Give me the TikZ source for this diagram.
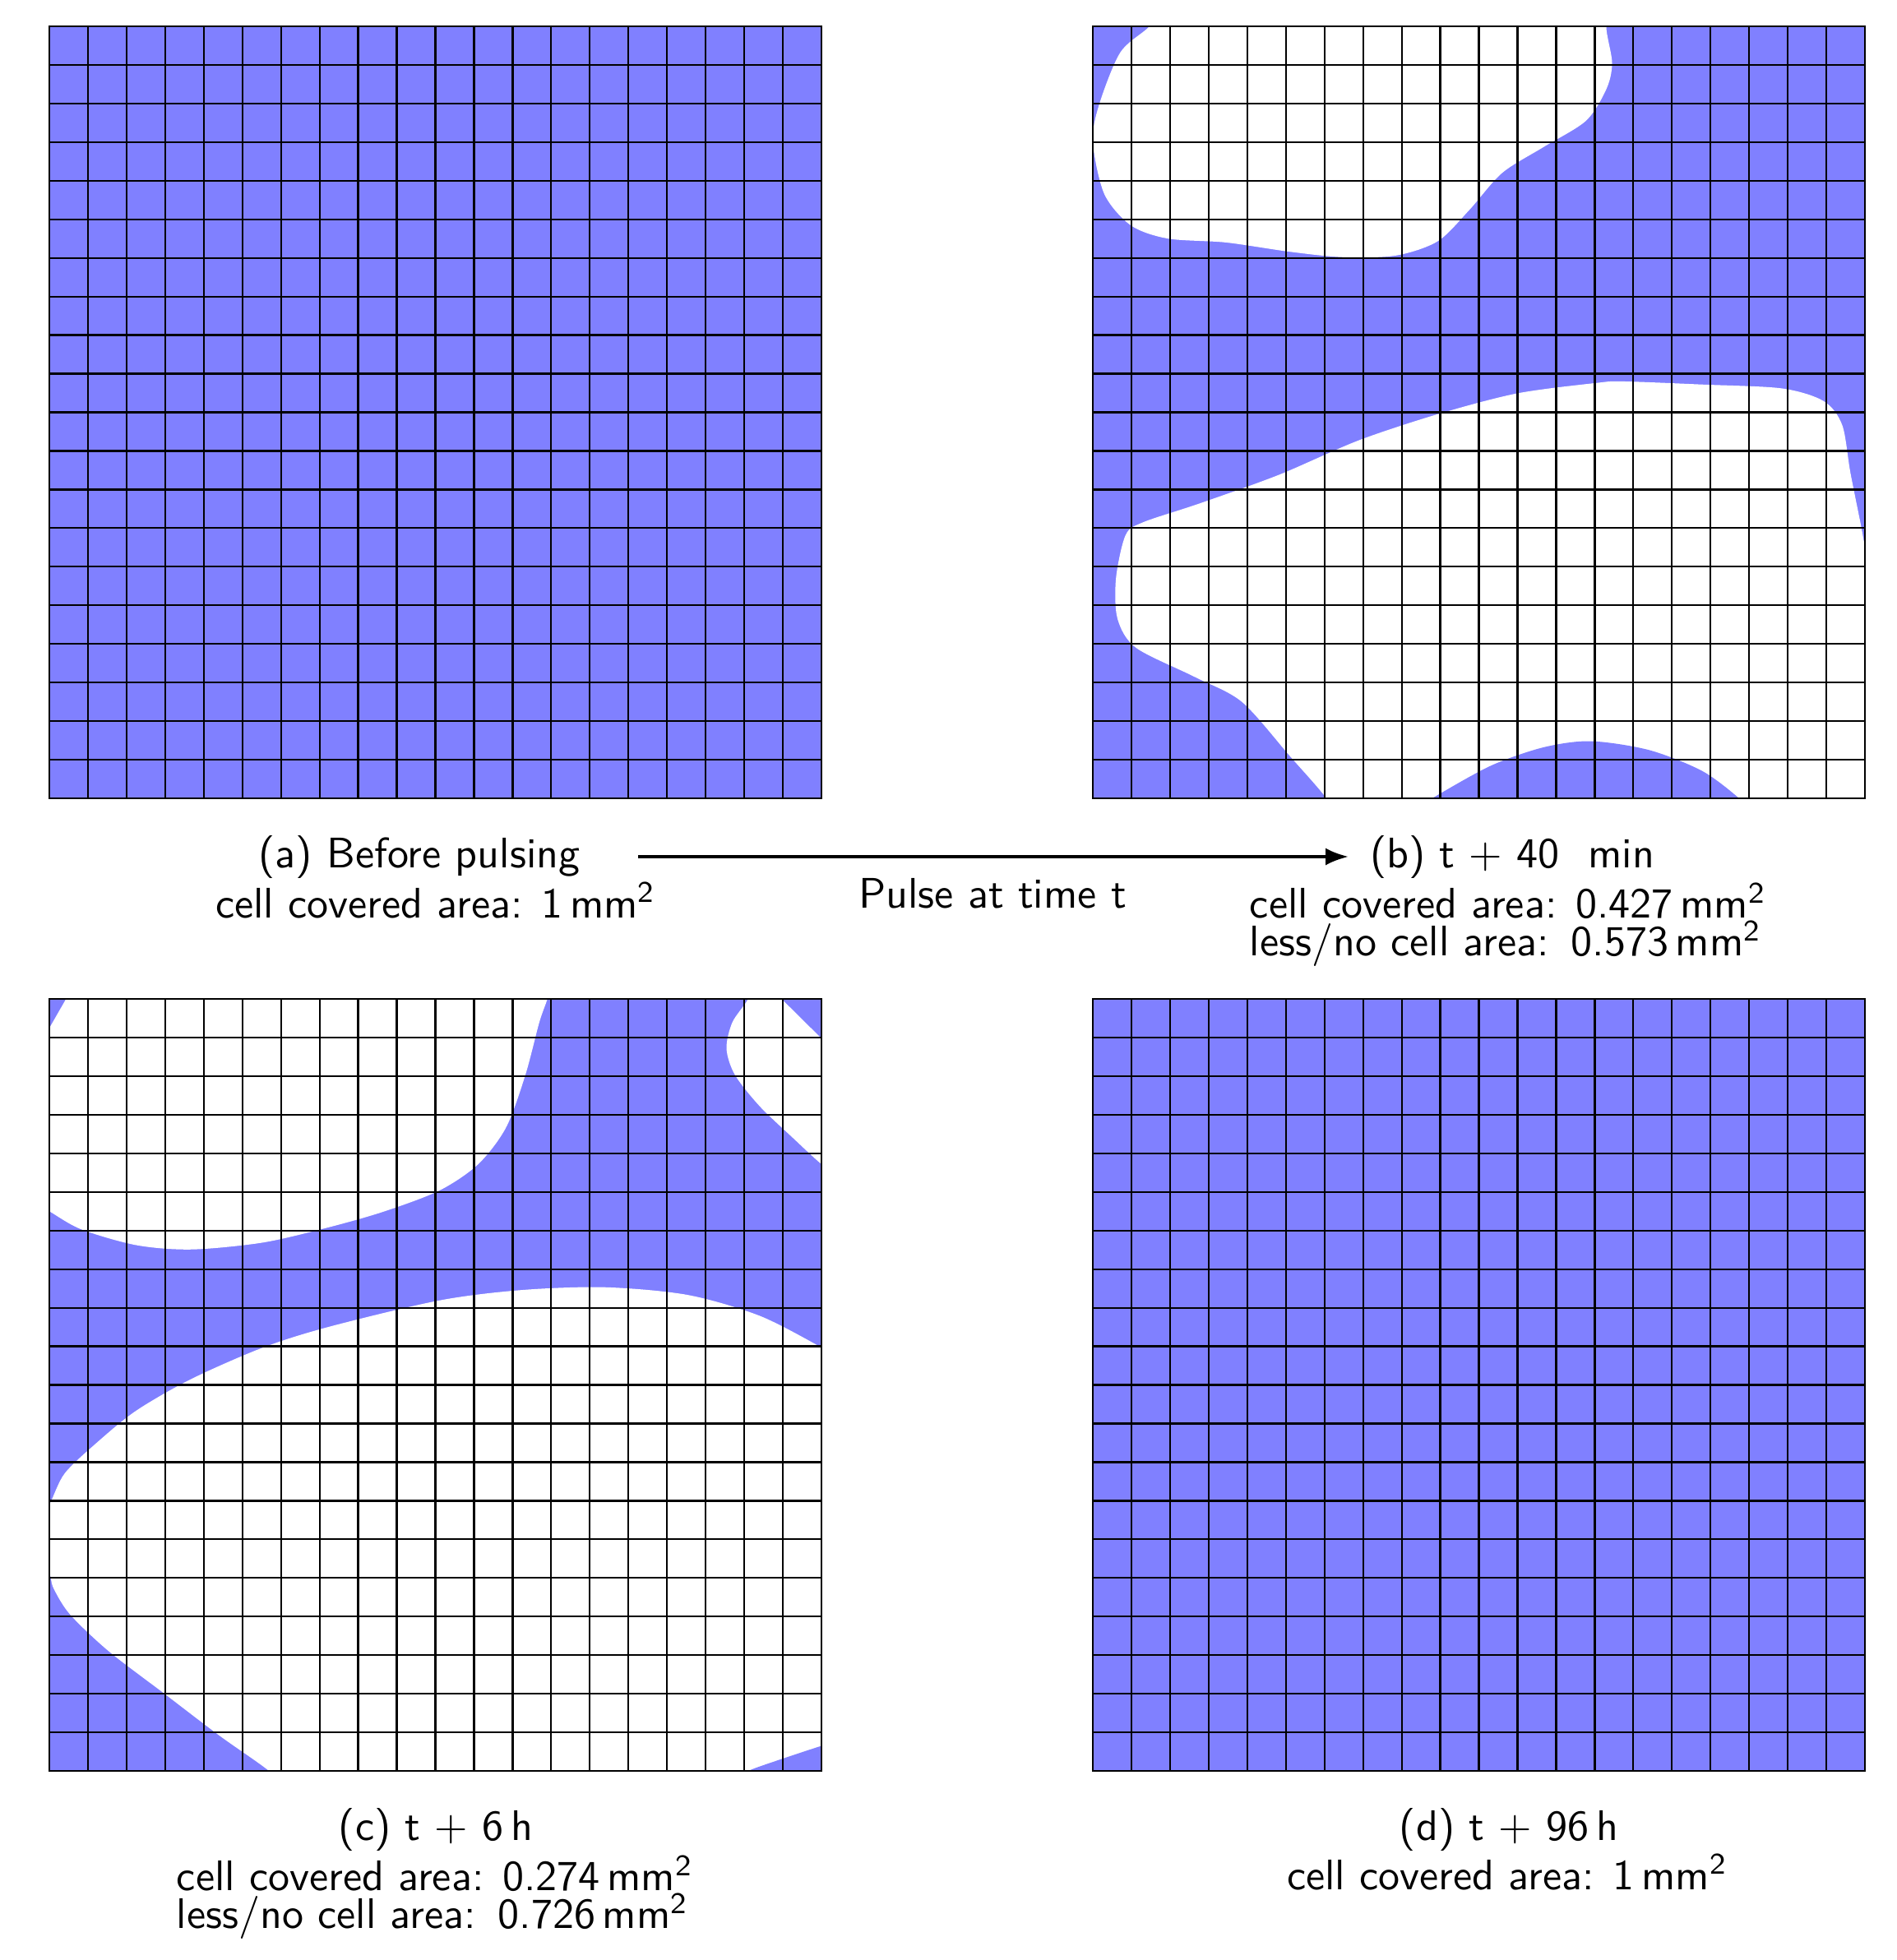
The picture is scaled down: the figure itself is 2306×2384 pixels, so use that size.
\documentclass[tikz,border=0pt]{standalone}
\usetikzlibrary{arrows.meta}
\definecolor{cellblue}{RGB}{128,128,255}
\newcommand\panelgrid{%
  \foreach \i in {1,...,19}{\draw[gridline] (\i,0) -- (\i,20); \draw[gridline] (0,\i) -- (20,\i);}
  \draw[gridline] (0,0) rectangle (20,20);}
\begin{document}
\begin{tikzpicture}[x=0.2pt,y=-0.2pt, font=\sffamily\fontsize{10.4}{12.5}\selectfont,
  gridline/.style={line width=0.45pt, black},
  capnode/.style={inner sep=0pt},
  areanode/.style={inner sep=0pt, align=left},
  cellscope/.style={x=9.39pt, y=-9.39pt},
  pulsearrow/.style={line width=0.8pt, -{Latex[length=5.6pt,width=4.2pt]}}]
\useasboundingbox (0,0) rectangle (2306,2384);
\fill[white] (0,0) rectangle (2306,2384);

% panel (a)
\begin{scope}[shift={(60,32)}, cellscope]
  \fill[cellblue] (0,0) rectangle (20,20);
  \panelgrid
\end{scope}

% panel (b)
\begin{scope}[shift={(1329,32)}, cellscope]
  \begin{scope}
    \clip (0,0) rectangle (20,20);
    \fill[cellblue] (0,0) rectangle (20,20);
    \fill[white] plot[smooth] coordinates {(13.5,-0.6) (13.3,0) (13.45,0.95) (13.3,1.63) (12.77,2.45) (11.67,3.13) (10.6,3.8) (9.75,4.76) (8.93,5.57) (7.84,5.94) (6.47,5.98) (5.1,5.84) (3.45,5.6) (1.95,5.5) (0.99,5.16) (0.3,4.35) (0.0,3.0) (0.16,2.04) (0.71,0.68) (1.47,0) (1.9,-0.6)} -- cycle;
    \fill[white] plot[smooth] coordinates {(6.3,20.6) (6.05,20) (5.1,18.9) (3.86,17.5) (2.63,16.85) (1.12,16.1) (0.64,15.35) (0.6,14.3) (0.85,13.18) (1.3,12.85) (2.77,12.36) (4.82,11.62) (6.88,10.73) (8.93,10.05) (10.99,9.51) (13.04,9.24) (13.73,9.2) (15.78,9.28) (17.84,9.38) (18.93,9.71) (19.41,10.33) (19.62,11.55) (19.89,12.9) (20.05,13.72) (20.3,14.6)} -- (21,21) -- cycle;
    \fill[cellblue] plot[smooth] coordinates {(8.2,20.4) (8.79,20) (10.3,19.16) (11.67,18.68) (12.9,18.52) (14.41,18.75) (15.78,19.29) (16.74,20) (17.2,20.5)} -- cycle;
  \end{scope}
  \panelgrid
\end{scope}

% panel (c)
\begin{scope}[shift={(60,1215)}, cellscope]
  \begin{scope}
    \clip (0,0) rectangle (20,20);
    \fill[cellblue] (0,0) rectangle (20,20);
    \fill[white] plot[smooth] coordinates {(-0.5,5.2) (0,5.5) (0.83,5.97) (2.26,6.38) (3.69,6.49) (5.54,6.31) (7.26,5.91) (8.69,5.5) (10.11,4.96) (11.11,4.28) (11.83,3.33) (12.33,1.97) (12.69,0.61) (12.9,0) (13.05,-0.6)} -- (-1,-1) -- cycle;
    \fill[cellblue] (0,0) -- (0.43,0) -- (0,0.75) -- cycle;
    \fill[white] plot[smooth] coordinates {(18.3,-0.6) (18.1,0) (17.69,0.61) (17.54,1.29) (17.76,1.97) (18.4,2.78) (19.26,3.6) (20,4.28) (20.6,4.7)} -- (21,-1) -- cycle;
    \fill[cellblue] (18.97,0) -- (20,1.02) -- (20,0) -- cycle;
    \fill[white] plot[smooth] coordinates {(-0.4,13.7) (0,13.1) (0.4,12.29) (1.26,11.47) (2.26,10.66) (3.69,9.84) (5.54,9.03) (7.26,8.49) (10.11,7.81) (12.26,7.54) (14.4,7.47) (16.54,7.67) (18.4,8.21) (20,9.03) (20.6,9.4)} -- (21,21) -- plot[smooth] coordinates {(6.1,20.5) (5.69,20) (4.4,19.08) (2.97,17.99) (1.54,16.9) (0.54,15.95) (0.11,15.27) (0,14.87) (-0.3,14.3)} -- cycle;
    \fill[cellblue] plot[smooth] coordinates {(20.5,19.2) (20,19.35) (18.97,19.69) (18.1,20) (17.6,20.3)} -- (21,21) -- cycle;
  \end{scope}
  \panelgrid
\end{scope}

% panel (d)
\begin{scope}[shift={(1329,1215)}, cellscope]
  \fill[cellblue] (0,0) rectangle (20,20);
  \panelgrid
\end{scope}

% captions
\node[capnode] (acap) at (510,1042) {(a) Before pulsing};
\node[capnode] (aarea) at (530,1095) {cell covered area: 1\,mm\textsuperscript{2}};

\node[capnode] (bcap) at (1839,1042) {(b) t + 40 \ min};
\node[areanode] (barea) at (1834,1125) {cell covered area: 0.427\,mm\textsuperscript{2}\\[-3.3pt]\rlap{less/no cell area:}\phantom{cell covered area:} 0.573\,mm\textsuperscript{2}};

\node[capnode] (pulse) at (1207,1087) {Pulse at time t};
\draw[pulsearrow, shorten <=14pt, shorten >=5pt] (acap.east) -- (bcap.west);

\node[capnode] (ccap) at (530,2225) {(c) t + 6\,h};
\node[areanode] (carea) at (529,2308) {cell covered area: 0.274\,mm\textsuperscript{2}\\[-3.3pt]\rlap{less/no cell area:}\phantom{cell covered area:} 0.726\,mm\textsuperscript{2}};

\node[capnode] (dcap) at (1835,2225) {(d) t + 96\,h};
\node[capnode] (darea) at (1833,2277) {cell covered area: 1\,mm\textsuperscript{2}};
\end{tikzpicture}
\end{document}
